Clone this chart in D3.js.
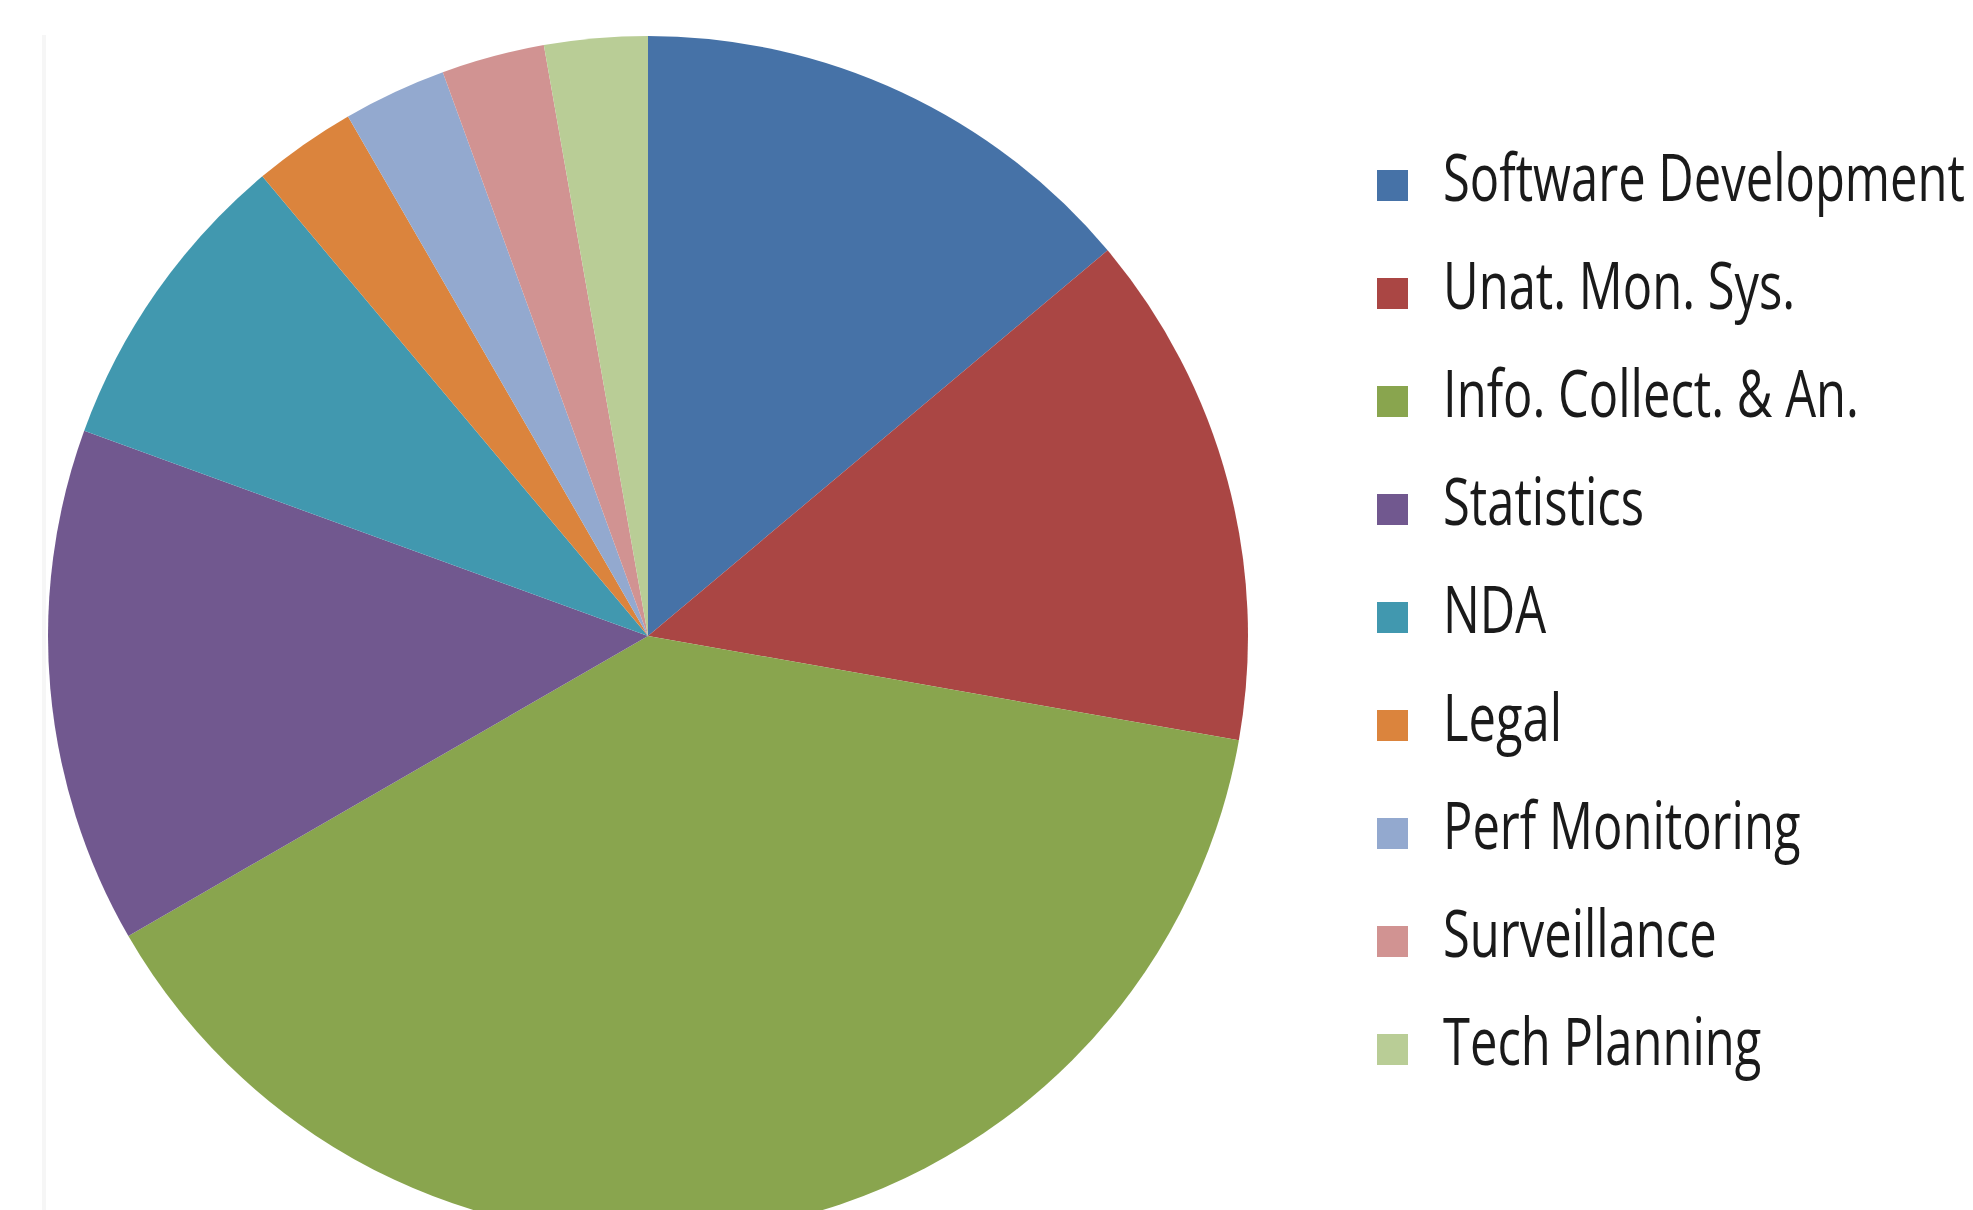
<!DOCTYPE html>
<meta charset="utf-8">

<!-- Load d3.js -->
<script src="https://d3js.org/d3.v7.min.js"></script>

<style>
  body { margin: 0; background: #fff; }
</style>

<!-- Create a div where the graph will take place -->
<div id="my_dataviz"></div>

<script>

// the data: one slice per work area
var categories = ["Software Development", "Unat. Mon. Sys.", "Info. Collect. & An.", "Statistics",
                  "NDA", "Legal", "Perf Monitoring", "Surveillance", "Tech Planning"];
var counts = [5, 5, 14, 5, 3, 1, 1, 1, 1];
var colors = ["#4672A7", "#AA4644", "#89A54E", "#71588F", "#4198AF",
              "#DB843D", "#93A9CF", "#D19392", "#B9CD96"];

// set the dimensions of the page
var width = 1973,
    height = 1210,
    radius = 600;

// append the svg object to the body of the page
var svg = d3.select("#my_dataviz")
  .append("svg")
    .attr("width", width)
    .attr("height", height);

// faint frame edge on the left
svg.append("rect")
  .attr("x", 42).attr("y", 35)
  .attr("width", 4).attr("height", height - 35)
  .attr("fill", "#f6f6f6");

var color = d3.scaleOrdinal()
  .domain(categories)
  .range(colors);

var pie = d3.pie()
  .sort(null)
  .value(function(d) { return d.value; });

var data = categories.map(function(c, i) { return {name: c, value: counts[i]}; });

var arc = d3.arc()
  .innerRadius(0)
  .outerRadius(radius);

var g = svg.append("g")
  .attr("transform", "translate(648,636)");

g.selectAll("path")
  .data(pie(data))
  .enter()
  .append("path")
    .attr("d", arc)
    .attr("fill", function(d) { return color(d.data.name); });

// legend
var y = d3.scalePoint()
  .domain(categories)
  .range([201, 201 + 108 * 8]);

var legend = svg.append("g");

legend.selectAll("rect")
  .data(categories)
  .enter()
  .append("rect")
    .attr("x", 1377)
    .attr("y", function(d) { return y(d) - 31; })
    .attr("width", 31)
    .attr("height", 31)
    .attr("fill", function(d) { return color(d); });

var labels = legend.selectAll("text")
  .data(categories)
  .enter()
  .append("text")
    .attr("x", 0)
    .attr("y", 0)
    .text(function(d) { return d; })
    .style("font-family", "'Open Sans', sans-serif")
    .style("font-size", "66px")
    .attr("fill", "#1a1a1a");

// the original font is a condensed one: squeeze so the longest label fits 522px
var longest = d3.max(labels.nodes(), function(n) { return n.getComputedTextLength(); });
var sx = 522 / longest;
labels.attr("transform", function(d) { return "translate(1443," + y(d) + ") scale(" + sx + ",1)"; });

</script>
